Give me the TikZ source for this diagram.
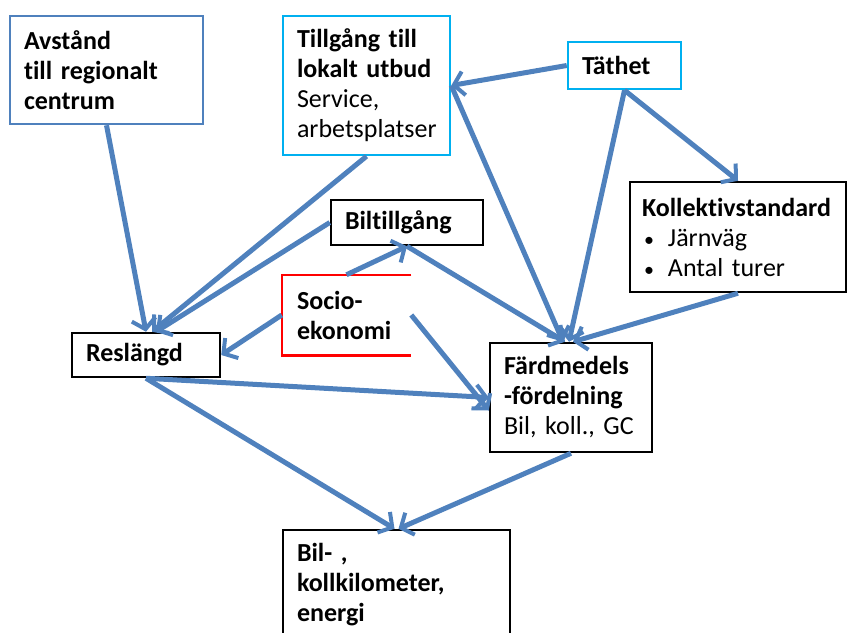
\documentclass[tikz,border=0pt]{standalone}
\usepackage{fontspec}
\setmainfont{Carlito}[Ligatures={NoCommon}]
\usetikzlibrary{arrows.meta,calc}
\definecolor{arrblue}{HTML}{4F81BD}
\definecolor{boxblue}{HTML}{4F81BD}
\definecolor{boxcyan}{HTML}{00B0F0}
\definecolor{boxred}{HTML}{FF0000}
\begin{document}
\begin{tikzpicture}[x=1pt,y=-1pt,
  box/.style={draw=black,line width=2.5pt,inner xsep=14pt,inner ysep=0pt,align=left,
    font=\fontsize{26}{30}\selectfont\bfseries},
  conn/.style={draw=arrblue,line width=5pt,
    -{Straight Barb[length=10pt,width=24pt,line width=4pt]}},
]
\useasboundingbox (0,0) rectangle (848,632);
\node[box,draw=boxblue,text width=165pt,minimum height=108pt] (avst) at (106.5,70)
  {Avstånd\\till regionalt\\centrum};
\node[box,draw=boxcyan,text width=139pt,minimum height=139pt] (tillg) at (366.5,85.5)
  {Tillgång till\\lokalt utbud\\\mdseries Service,\\\mdseries arbetsplatser};
\node[box,draw=boxcyan,text width=85pt,minimum height=47pt] (tath) at (624.5,65.5)
  {Täthet};
\node[box,inner xsep=12pt,text width=192pt,minimum height=110pt] (koll) at (738,237)
  {Kollektivstandard\\\mdseries\hspace*{2pt}{\fontsize{20}{30}\selectfont•}\hspace{14pt}Järnväg\\\mdseries\hspace*{2pt}{\fontsize{20}{30}\selectfont•}\hspace{14pt}Antal turer};
\node[box,text width=124pt,minimum height=45pt] (bilt) at (407,222.5)
  {Biltillgång};
\node[box,draw=none,text width=99pt,minimum height=78pt] (socio) at (346.5,315)
  {Socio-\\ekonomi};
\draw[boxred,line width=2.5pt] (socio.north east) -- (socio.north west) -- (socio.south west) -- (socio.south east);
\node[box,text width=120pt,minimum height=44pt] (resl) at (146,355)
  {Reslängd};
\node[box,text width=134pt,minimum height=109pt] (ferd) at (571,397.5)
  {Färdmedels\\-fördelning\\\mdseries Bil, koll., GC};
\node[box,text width=199pt,minimum height=110pt] (bil) at (396.5,585)
  {Bil- ,\\kollkilometer,\\energi};
% connectors
\draw[conn] (avst.south) -- (resl.north);
\draw[conn] (tillg.south) -- ([xshift=6pt]resl.north);
\draw[conn] (bilt.west) -- ([xshift=10pt]resl.north);
\draw[conn] (socio.west) -- (resl.east);
\draw[conn] (socio.north) -- (bilt.south);
\draw[conn] (bilt.south) -- ([xshift=-6pt]ferd.north);
\draw[conn] (tillg.east) -- ([xshift=-8pt]ferd.north);
\draw[conn] (tath.west) -- (tillg.east);
\draw[conn] (tath.south) -- ([xshift=-2pt]ferd.north);
\draw[conn] (tath.south) -- (koll.north);
\draw[conn] (koll.south) -- ([xshift=2pt]ferd.north);
\draw[conn] (socio.east) -- ([yshift=-13pt]ferd.west);
\draw[conn] (resl.south) -- (ferd.west);
\draw[conn] (resl.south) -- ([xshift=-2pt]bil.north);
\draw[conn] (ferd.south) -- ([xshift=2pt]bil.north);
\end{tikzpicture}
\end{document}
